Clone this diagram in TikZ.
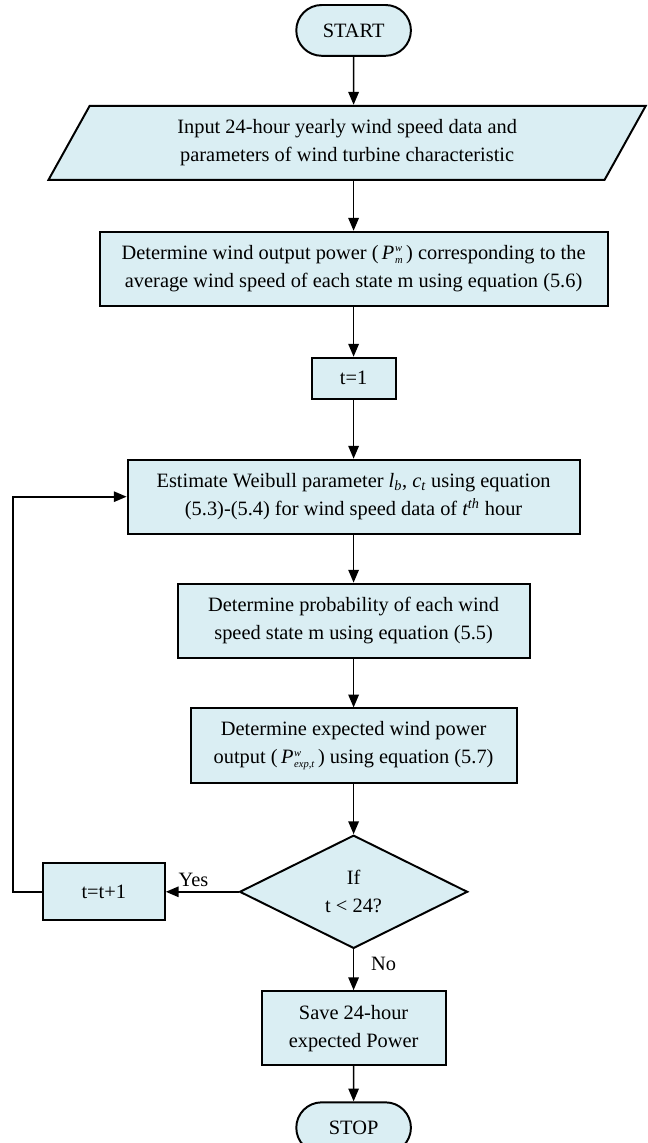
\documentclass[tikz,border=0pt]{standalone}
\usepackage{fontspec}
\setmainfont{Liberation Serif}
\usepackage{tikz}
\usetikzlibrary{shapes.geometric,shapes.misc,arrows.meta,positioning}

\definecolor{boxfill}{HTML}{DAEEF3}

% wind power symbol, small stacked w over the subscript
\newcommand{\windpow}[1]{\textit{P}\kern0.5pt\makebox[0pt][l]{\raisebox{0.85ex}{\fontsize{7.5}{7.5}\selectfont\textit{w}}}\raisebox{-0.4ex}{\fontsize{7.5}{7.5}\selectfont\textit{#1}}}

\begin{document}
\begin{tikzpicture}[
    node distance=1.25cm,
    every node/.style={font=\fontsize{14.5}{20}\selectfont},
    terminal/.style={rounded rectangle, draw, line width=1.4pt, fill=boxfill, minimum width=3.1cm, minimum height=1.27cm},
    process/.style={rectangle, draw, line width=1.4pt, fill=boxfill, minimum height=1.85cm, align=center},
    io/.style={trapezium, trapezium left angle=63.5, trapezium right angle=116.5, trapezium stretches=true, draw, line width=1.4pt, fill=boxfill, minimum width=14.97cm, minimum height=1.85cm, align=center},
    decision/.style={diamond, draw, line width=1.4pt, fill=boxfill, inner sep=0pt, minimum width=5.7cm, minimum height=2.83cm, align=center},
    arrow/.style={-{Triangle[length=0.32cm,width=0.26cm]}, line width=1.2pt}
]
\useasboundingbox (0,0) rectangle (16.2,-28.575);

% Main column
\node[terminal] (start) at (8.84,-0.76) {START};
\node[io, below=1.2cm of start, xshift=-0.16cm] (input) {Input 24-hour yearly wind speed data and\\parameters of wind turbine characteristic};
\node[process, minimum width=12.7cm, below=1.25cm of input.south -| start, anchor=north] (power) {Determine wind output power (\,\windpow{m}\,) corresponding to the\\average wind speed of each state m using equation (5.6)};
\node[process, minimum width=2.1cm, minimum height=1.02cm, below=of power] (tinit) {t=1};
\node[process, minimum width=11.3cm, below=1.48cm of tinit] (weibull) {Estimate Weibull parameter \textit{l\textsubscript{b}}, \textit{c\textsubscript{t}} using equation\\(5.3)-(5.4) for wind speed data of \textit{t\textsuperscript{th}} hour};
\node[process, minimum width=8.8cm, below=1.2cm of weibull] (prob) {Determine probability of each wind\\speed state m using equation (5.5)};
\node[process, minimum width=8.15cm, minimum height=1.87cm, below=1.22cm of prob] (expect) {Determine expected wind power\\output (\,\windpow{exp,t}\,) using equation (5.7)};
\node[decision, below=of expect] (check) {If\\t < 24?};
\node[process, minimum width=4.6cm, below=1.02cm of check] (save) {Save 24-hour\\expected Power};
\node[terminal, below=0.88cm of save] (stop) {STOP};

% Loop counter
\node[process, minimum width=3.05cm, minimum height=1.42cm, left=1.82cm of check] (tnext) {t=t+1};
\coordinate (loop) at (0.33,0);

% Flow arrows
\draw[arrow] (start) -- (start |- input.north);
\draw[arrow] (start |- input.south) -- (power);
\draw[arrow] (power) -- (tinit);
\draw[arrow] (tinit) -- (weibull);
\draw[arrow] (weibull) -- (prob);
\draw[arrow] (prob) -- (expect);
\draw[arrow] (expect) -- (check);
\draw[arrow] (check) -- node[right=0.3cm, pos=0.35] (no) {No} (save);
\draw[arrow] (save) -- (stop);

% Back to the next hour
\draw[arrow] (check) -- node[above, pos=0.62] (yes) {Yes} (tnext);
\draw[arrow] (tnext.west) -- (tnext.west -| loop) |- (weibull.west);

\end{tikzpicture}
\end{document}
